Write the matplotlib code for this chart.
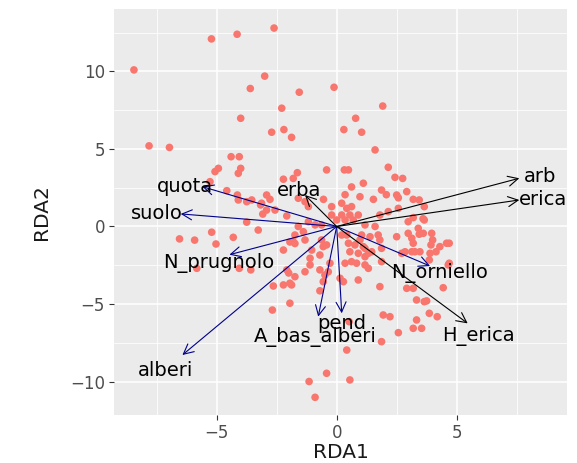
import numpy as np
import matplotlib
matplotlib.use('Agg')
import matplotlib.pyplot as plt

# Site scores (RDA1, RDA2)
site_x = [-8.45, -5.22, -4.15, -2.61, -3.0, -3.6, -1.56, -0.11, -4.0, -2.29,
          1.92, 0.79, -2.71, -2.2, -1.88, 0.3, 1.04, -7.82, -6.97, 1.6,
          -4.4, -4.06, -4.93, -5.07, -4.0, -4.1, 2.15, 2.43, 2.75, -0.42,
          0.32, 0.49, -2.22, -1.81, -1.64, 1.11, 0.62, 1.87, 2.07, 2.92,
          3.19, 2.57, 2.5, 0.97, 1.53, 0.35, -0.55, -5.28, -4.58, -4.14,
          -4.1, -3.75, -3.54, -3.13, -2.92, -2.78, -3.17, -3.08, -3.75, -2.92,
          -2.57, -2.08, -1.6, -3.27, -5.21, -4.31, -6.55, -5.92, -5.03, -1.81,
          -5.83, -4.06, -3.58, -2.64, -2.22, -1.88, -1.95, -2.68, -2.0, -1.74,
          -1.6, -1.32, -1.18, -0.21, 0.21, 0.42, 0.62, -0.21, 0.21, 0.55,
          0.9, 0.0, 0.35, 0.69, 1.8, 2.15, 2.57, 2.98, 3.19, 3.6,
          3.44, 3.65, 3.65, -1.39, -1.18, -0.9, -0.63, 0.42, 0.21, 1.04,
          1.73, 1.18, 1.6, 2.5, 2.98, 3.13, -1.95, -1.74, -0.63, 0.49,
          0.76, -0.42, 1.18, 1.46, 1.87, 0.55, 0.9, 1.18, 2.71, 3.13,
          -1.11, -0.7, 0.62, 1.18, 1.32, -1.32, -0.35, -1.11, 1.87, -1.74,
          -1.32, -2.22, -1.04, -0.56, 0.97, 1.39, 1.8, 1.11, 1.32, 0.83,
          0.35, -0.28, -2.08, -1.95, -0.7, -0.49, -0.56, 0.14, 0.28, 0.9,
          -0.7, 1.8, 2.92, 3.19, 3.33, 3.75, 3.65, 1.94, 2.22, 3.33,
          3.19, 3.54, 3.86, 4.19, 2.57, 1.87, 0.42, -0.42, 0.55, -1.15,
          -0.9, 0.52, 3.4, 3.61, 3.96, 4.58, 4.3, 3.19, 2.85, 3.26,
          3.47, 3.89, 4.65, 4.44, 4.0, 3.93, 4.69, 4.14, 3.86, 4.69,
          3.44]
site_y = [10.1, 12.1, 12.4, 12.8, 9.7, 8.9, 8.66, 8.98, 6.98, 7.63,
          7.77, 6.98, 6.08, 6.25, 5.75, 6.25, 6.08, 5.2, 5.1, 4.94,
          4.5, 4.5, 3.75, 3.54, 3.75, 3.43, 3.82, 3.17, 3.1, 3.65,
          3.65, 3.65, 3.05, 3.1, 3.47, 2.79, 2.55, 2.35, 2.05, 2.25,
          1.75, 1.85, 2.03, 1.92, 1.75, 2.05, 1.75, 2.89, 2.31, 2.03,
          1.71, 1.6, 1.71, 1.5, 2.03, 1.75, 1.39, 0.8, 0.28, 1.06,
          1.06, 0.68, 0.0, -0.23, -0.37, -0.7, -0.8, -0.88, -1.13, -0.98,
          -2.7, -2.7, -2.8, -3.84, -3.77, -3.77, -4.95, -5.39, -3.0, -3.24,
          1.82, 1.6, 1.28, 1.28, 1.5, 1.17, 1.28, 0.74, 0.74, 0.74,
          0.74, 0.42, 0.42, 0.42, 0.74, 0.96, 1.17, 0.31, 0.57, 0.5,
          1.71, 1.28, 0.42, -0.34, 0.31, 0.1, 0.1, -0.55, -0.55, -0.55,
          -0.55, 0.1, 0.0, -0.66, -0.44, -0.76, -1.0, -1.1, -0.87, -1.08,
          -1.19, -1.19, -1.41, -1.63, -1.41, -1.63, -1.73, -1.95, -1.73, -1.63,
          -2.05, -1.84, -2.27, -2.48, -2.7, -2.92, -2.92, -2.48, -2.27, -0.55,
          -0.87, -1.52, -1.52, -1.3, -0.87, -0.66, -0.87, -1.3, -1.73, -2.37,
          -2.37, -2.37, -2.8, -3.66, -2.8, -3.13, -3.56, -3.34, -3.56, -3.45,
          -4.15, -3.88, -3.99, -3.99, -4.74, -4.8, -4.85, -5.71, -5.82, -6.03,
          -6.57, -6.57, -5.6, -5.82, -6.85, -7.43, -7.97, -9.47, -9.9, -10.0,
          -11.02, -6.14, -0.12, -0.44, -0.44, -1.08, -1.3, -1.08, -1.63, -1.63,
          -1.63, -1.73, -2.48, -3.95, -0.87, -1.19, -1.08, -1.63, -2.16, -2.37,
          -0.5]

# Biplot arrows: variable names, arrow tips, label positions
var_names = ['quota', 'suolo', 'N_prugnolo', 'alberi', 'A_bas_alberi', 'pend',
             'N_orniello', 'H_erica', 'arb', 'erica', 'erba']
arrow_x = [-5.6, -6.5, -4.47, -6.43, -0.77, 0.21, 3.89, 5.46, 7.61, 7.61, -1.32]
arrow_y = [2.57, 0.81, -1.82, -8.29, -5.82, -5.6, -2.55, -6.25, 3.11, 1.71, 2.03]
label_x = [-6.32, -7.51, -4.93, -7.13, -0.9, 0.21, 4.3, 5.91, 8.47, 8.6, -1.57]
label_y = [2.61, 0.81, -2.37, -9.26, -7.11, -6.25, -3.02, -7.06, 3.21, 1.71, 2.35]
black_vars = ['H_erica', 'arb', 'erica', 'erba']

plt.rcParams['font.family'] = ['DejaVu Sans']

fig = plt.figure(figsize=(5.77, 4.63), dpi=100)
ax = fig.add_axes([0.1976, 0.1037, 0.7851, 0.8769])
ax.set_facecolor('#EBEBEB')
for s in ax.spines.values():
    s.set_visible(False)

ax.set_xlim(-9.28, 9.6)
ax.set_ylim(-12.16, 14.03)
ax.set_xticks([-5, 0, 5])
ax.set_yticks([-10, -5, 0, 5, 10])
ax.set_xticks([-7.5, -2.5, 2.5, 7.5], minor=True)
ax.set_yticks([-7.5, -2.5, 2.5, 7.5, 12.5], minor=True)
ax.grid(which='major', color='white', linewidth=1.1)
ax.grid(which='minor', color='white', linewidth=0.55)
ax.set_axisbelow(True)
ax.tick_params(which='major', length=3.5, width=0.8, color='#333333',
               labelcolor='#4D4D4D', labelsize=12, pad=3)
ax.tick_params(which='minor', length=0)

ax.scatter(site_x, site_y, s=30, color='#F8766D', edgecolors='none', zorder=2)

for i, name in enumerate(var_names):
    col = 'black' if name in black_vars else '#00008B'
    ax.annotate('', xy=(arrow_x[i], arrow_y[i]), xytext=(0, 0),
                arrowprops=dict(arrowstyle='->,head_length=0.6,head_width=0.3',
                                color=col, lw=0.8, shrinkA=0, shrinkB=0,
                                mutation_scale=12), zorder=3)
    ax.text(label_x[i], label_y[i], name, fontsize=14, color='black',
            ha='center', va='center', zorder=4, clip_on=True)

ax.set_xlabel('RDA1', fontsize=14.5, color='#1A1A1A', labelpad=1)
ax.set_ylabel('RDA2', fontsize=14.5, color='#1A1A1A', labelpad=14)

fig.savefig('out.png', dpi=100)
